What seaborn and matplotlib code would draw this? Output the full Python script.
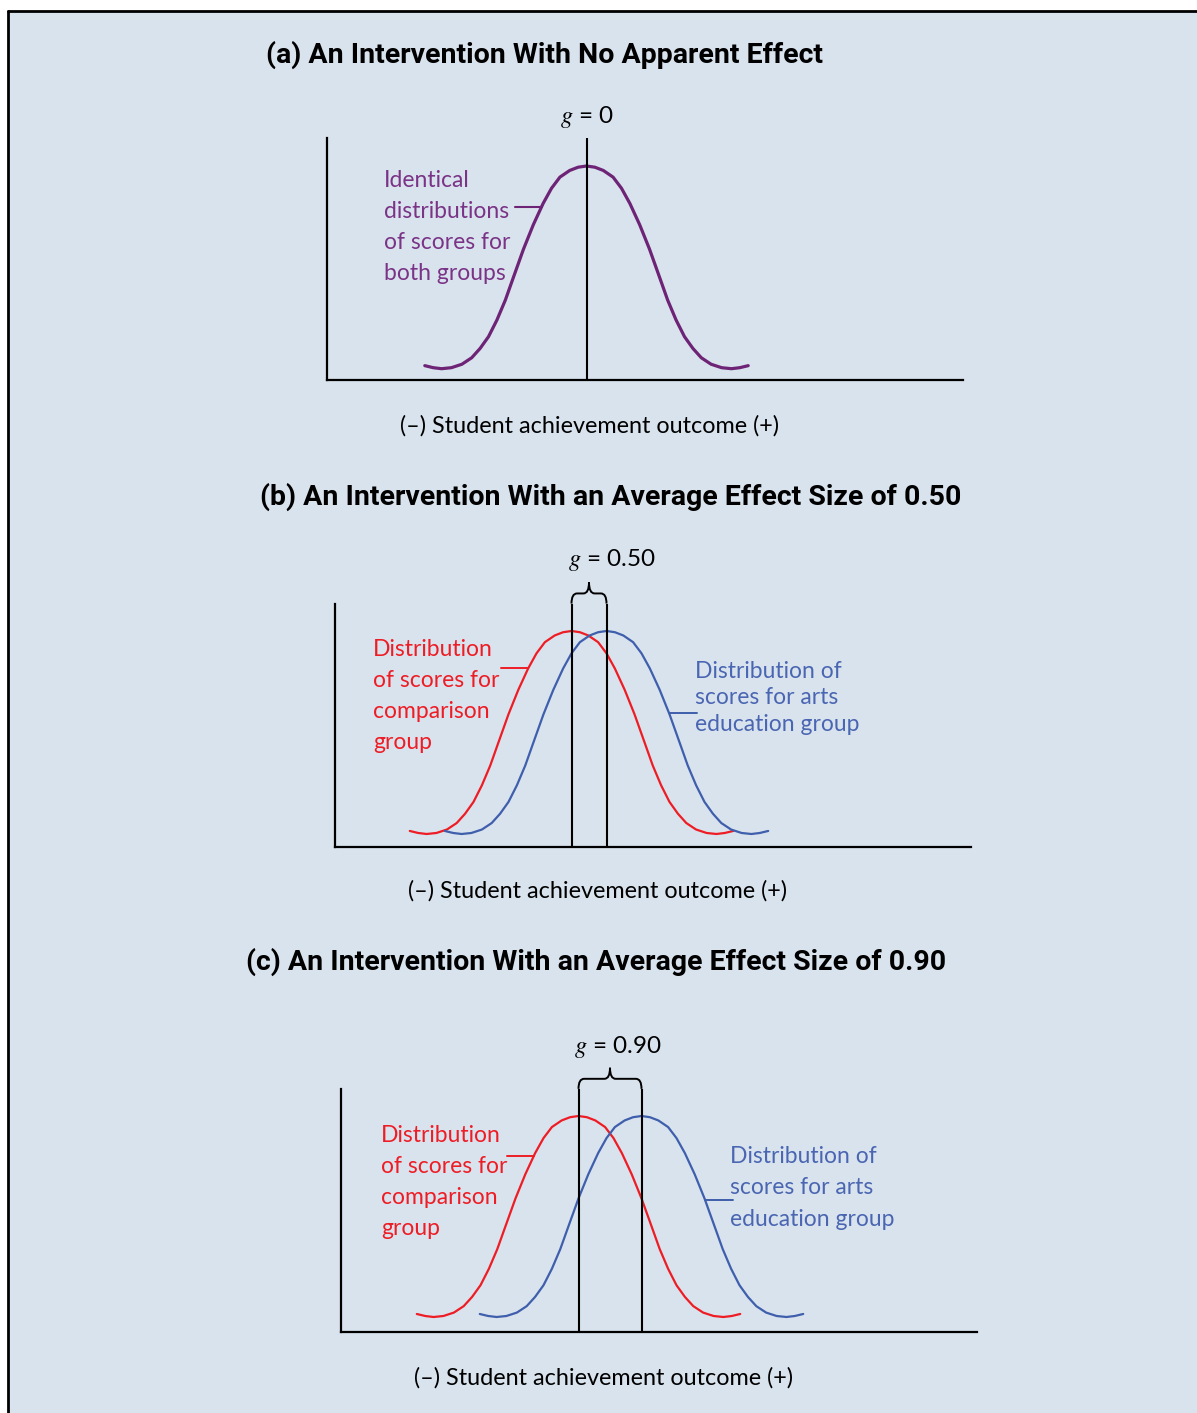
import numpy as np
import pandas as pd
import matplotlib.pyplot as plt
import seaborn as sns
from matplotlib.path import Path
from matplotlib.patches import PathPatch, Rectangle
from matplotlib.lines import Line2D

sns.set_style("white")
plt.rcParams['font.family'] = ['Lato', 'DejaVu Sans']
plt.rcParams['mathtext.fontset'] = 'stix'
plt.rcParams['text.color'] = 'black'

# bell shape: offset from the mean (SD units) and height relative to the peak
profile_dx = [-2.31, -2.19, -2.07, -1.93, -1.78, -1.64, -1.52, -1.40, -1.28, -1.16,
              -1.05, -0.90, -0.76, -0.62, -0.50, -0.38, -0.24, -0.12, 0.0]
profile_h = [0.015, 0.005, 0.0, 0.005, 0.022, 0.054, 0.10, 0.158, 0.24, 0.338,
             0.445, 0.59, 0.71, 0.815, 0.89, 0.945, 0.978, 0.994, 1.0]

titles = ["(a) An Intervention With No Apparent Effect",
          "(b) An Intervention With an Average Effect Size of 0.50",
          "(c) An Intervention With an Average Effect Size of 0.90"]
effect_sizes = [0.0, 0.50, 0.90]
g_labels = ["$g$ = 0", "$g$ = 0.50", "$g$ = 0.90"]
xlabel = "(\u2013) Student achievement outcome (+)"

comparison_text = "Distribution\nof scores for\ncomparison\ngroup"
arts_text = "Distribution of\nscores for arts\neducation group"
same_text = "Identical\ndistributions\nof scores for\nboth groups"

bg = "#d9e3ed"
purple = "#6e2476"
red = "#ee1d25"
blue = "#3f5fad"

W, H = 1197, 1413
fig = plt.figure(figsize=(W / 100, H / 100), dpi=100, facecolor="white")


def fx(x):
    return x / W


def fy(y):
    return 1 - y / H


# panel frame
fig.patches.append(Rectangle((fx(8), 0), 1 - fx(8), fy(11), transform=fig.transFigure,
                             facecolor=bg, edgecolor="none", zorder=-5))
fig.lines.append(Line2D([fx(8), 1], [fy(11), fy(11)], transform=fig.transFigure, color="black", lw=2))
fig.lines.append(Line2D([fx(8), fx(8)], [fy(11), 0], transform=fig.transFigure, color="black", lw=2))

# full bell curve
right_dx = [-d for d in profile_dx[-2::-1]]
right_h = profile_h[-2::-1]
bell_dx = np.array(profile_dx + right_dx)
bell_h = np.array(profile_h + right_h)

# layout in pixels: axes box, x of first mean, y of curve bottom and curve top
boxes = [(327, 963, 138, 380), (335, 971, 604, 847), (341, 977, 1089, 1332)]
mean_px = [586.5, 571.5, 578.5]
base_px = [368.7, 834, 1317]
peak_px = [166, 631, 1116]
px_per_sd = 70

title_pos = [(545, 55), (611, 497), (596, 962)]
xlabel_pos = [(590, 426), (598, 891), (604, 1378)]
g_pos = [(587, 117), (612, 560), (618, 1047)]

for i in range(3):
    left, right, top, bottom = boxes[i]
    ax = fig.add_axes([fx(left), fy(bottom), (right - left) / W, (bottom - top) / H])
    ax.set_facecolor("none")
    hpx = base_px[i] - peak_px[i]
    ax.set_xlim((left - mean_px[i]) / px_per_sd, (right - mean_px[i]) / px_per_sd)
    ax.set_ylim((base_px[i] - bottom) / hpx, (base_px[i] - top) / hpx)
    for s in ["top", "right"]:
        ax.spines[s].set_visible(False)
    for s in ["left", "bottom"]:
        ax.spines[s].set_color("black")
        ax.spines[s].set_linewidth(1.6)
    ax.set_xticks([])
    ax.set_yticks([])

    if i == 0:
        df = pd.DataFrame({"x": bell_dx, "h": bell_h, "group": "both"})
        sns.lineplot(data=df, x="x", y="h", hue="group", palette=[purple], lw=2.3,
                     estimator=None, legend=False, ax=ax)
        ax.vlines(0, ax.get_ylim()[0], ax.get_ylim()[1], color="black", lw=1.5)
        # leader line from text to curve
        hy = 0.80
        cx = np.interp(hy, profile_h[2:], profile_dx[2:])
        ax.plot([cx - 27 / px_per_sd, cx], [hy, hy], color=purple, lw=1.5)
        fig.text(fx(384), fy(227), same_text, color="#7a3386", fontsize=16.5,
                 ha="left", va="center", linespacing=1.57)
    else:
        m1 = effect_sizes[i]
        df = pd.DataFrame({"x": np.concatenate([bell_dx, bell_dx + m1]),
                           "h": np.concatenate([bell_h, bell_h]),
                           "group": ["comparison"] * len(bell_dx) + ["arts"] * len(bell_dx)})
        sns.lineplot(data=df, x="x", y="h", hue="group", palette=[red, blue], lw=1.6,
                     estimator=None, legend=False, ax=ax)
        y_end, y_bar, y_tip = 1.135, 1.185, 1.24
        ax.vlines([0, m1], ax.get_ylim()[0], y_end, color="black", lw=1.5, clip_on=False)
        # curly brace between the two means
        r = 0.08
        mid = m1 / 2
        verts = [(0, y_end), (0, y_bar), (r, y_bar), (mid - r, y_bar), (mid, y_bar), (mid, y_tip),
                 (mid, y_bar), (mid + r, y_bar), (m1 - r, y_bar), (m1, y_bar), (m1, y_end)]
        codes = [Path.MOVETO, Path.CURVE3, Path.CURVE3, Path.LINETO, Path.CURVE3, Path.CURVE3,
                 Path.CURVE3, Path.CURVE3, Path.LINETO, Path.CURVE3, Path.CURVE3]
        ax.add_patch(PathPatch(Path(verts, codes), facecolor="none", edgecolor="black",
                               lw=1.4, clip_on=False))
        # leader lines
        lead_red = [668, 1156][i - 1]
        lead_blue = [713, 1200][i - 1]
        hr = (base_px[i] - lead_red) / hpx
        cx = np.interp(hr, profile_h[2:], profile_dx[2:])
        ax.plot([cx - 27 / px_per_sd, cx], [hr, hr], color=red, lw=1.4)
        hb = (base_px[i] - lead_blue) / hpx
        cx = m1 - np.interp(hb, profile_h[2:], profile_dx[2:])
        ax.plot([cx, cx + 28 / px_per_sd], [hb, hb], color=blue, lw=1.4)
        red_left, red_mid = [(373, 696), (381, 1182)][i - 1]
        blue_left, blue_mid = [(695, 698), (730, 1188)][i - 1]
        fig.text(fx(red_left), fy(red_mid), comparison_text, color=red, fontsize=16.5,
                 ha="left", va="center", linespacing=1.57)
        fig.text(fx(blue_left), fy(blue_mid), arts_text, color="#4a66b2", fontsize=16.5,
                 ha="left", va="center", linespacing=[1.35, 1.63][i - 1])

    ax.set_xlabel("")
    ax.set_ylabel("")
    fig.text(fx(title_pos[i][0]), fy(title_pos[i][1]), titles[i], ha="center", va="center",
             fontsize=20.5, fontweight="bold", color="black",
             family=["Roboto", "DejaVu Sans"])
    fig.text(fx(xlabel_pos[i][0]), fy(xlabel_pos[i][1]), xlabel, ha="center", va="center",
             fontsize=16.8, color="black")
    fig.text(fx(g_pos[i][0]), fy(g_pos[i][1]), g_labels[i], ha="center", va="center",
             fontsize=17.5, color="black")

fig.savefig("out.png", dpi=100, facecolor="white")
